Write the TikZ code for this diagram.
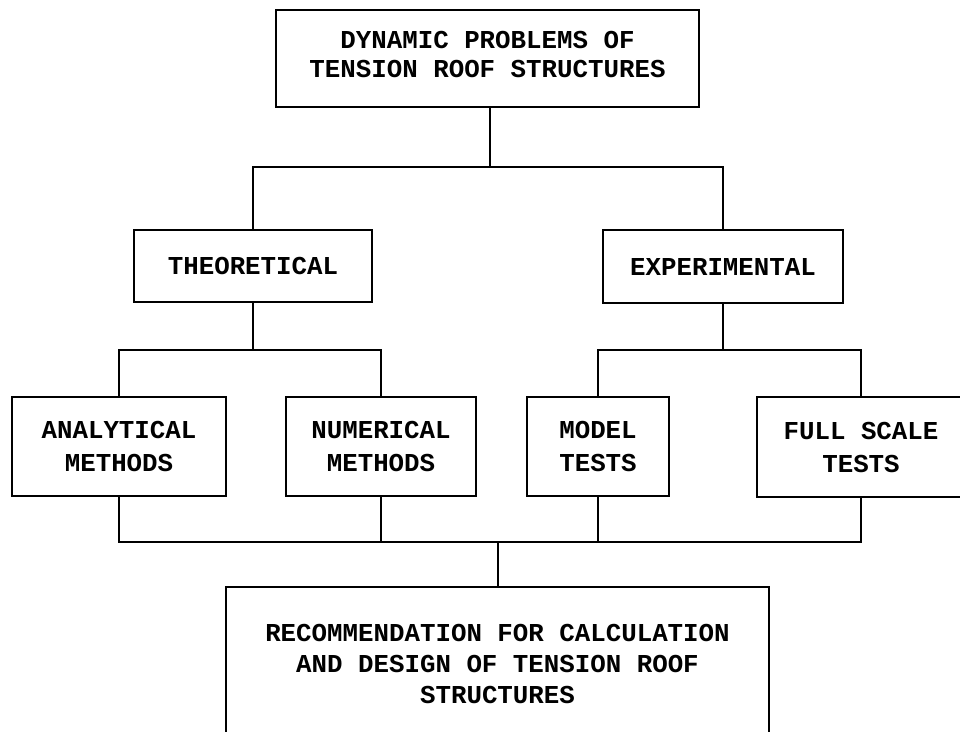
\documentclass[tikz,border=0pt]{standalone}
\usepackage{fontspec}
\newfontfamily\tw{Liberation Mono}[BoldFont={Liberation Mono Bold}]
\begin{document}
\begin{tikzpicture}[x=1pt,y=-1pt,
  box/.style={draw, line width=1.8pt, rectangle, align=center, inner sep=0pt,
    font=\tw\bfseries\fontsize{25.8}{31}\selectfont},
  conn/.style={line width=1.8pt}]
\useasboundingbox (0,0) rectangle (960,731);
\clip (0,0) rectangle (960,731);
\fill[white] (0,0) rectangle (960,731);
% boxes
\node[box, minimum width=423pt, minimum height=97pt, font=\tw\bfseries\fontsize{25.8}{29}\selectfont] (top) at (487.5,58.5)
  {DYNAMIC PROBLEMS OF\\TENSION ROOF STRUCTURES\\[-20pt]\mbox{}};
\node[box, minimum width=238pt, minimum height=72pt] (theo) at (253,266) {THEORETICAL};
\node[box, minimum width=240pt, minimum height=73pt] (exp) at (723,266.5) {EXPERIMENTAL};
\node[box, minimum width=214pt, minimum height=99pt, font=\tw\bfseries\fontsize{25.8}{33}\selectfont] (ana) at (119,446.5) {ANALYTICAL\\METHODS};
\node[box, minimum width=190pt, minimum height=99pt, font=\tw\bfseries\fontsize{25.8}{33}\selectfont] (num) at (381,446.5) {NUMERICAL\\METHODS};
\node[box, minimum width=142pt, minimum height=99pt, font=\tw\bfseries\fontsize{25.8}{33}\selectfont] (mod) at (598,446.5) {MODEL\\TESTS};
\node[box, minimum width=208pt, minimum height=100pt, font=\tw\bfseries\fontsize{25.8}{33}\selectfont] (full) at (861,447) {FULL SCALE\\TESTS};
\node[box, minimum width=543pt, minimum height=154pt] (rec) at (497.5,664)
  {RECOMMENDATION FOR CALCULATION\\AND DESIGN OF TENSION ROOF\\STRUCTURES};
% junction coordinates
\coordinate (j1) at (490,167);
\coordinate (j2) at (253,350);
\coordinate (j3) at (723,350);
\coordinate (j4) at (498,542);
% connectors
\draw[conn] (j1 |- top.south) -- (j1);
\draw[conn] (theo.north) |- (j1) -| (exp.north);
\draw[conn] (theo.south) -- (j2);
\draw[conn] (ana.north) |- (j2) -| (num.north);
\draw[conn] (exp.south) -- (j3);
\draw[conn] (mod.north) |- (j3) -| (full.north);
\draw[conn] (ana.south) |- (j4) -| (full.south);
\draw[conn] (num.south) -- (num.south |- j4);
\draw[conn] (mod.south) -- (mod.south |- j4);
\draw[conn] (j4) -- (rec.north -| j4);
\end{tikzpicture}
\end{document}
